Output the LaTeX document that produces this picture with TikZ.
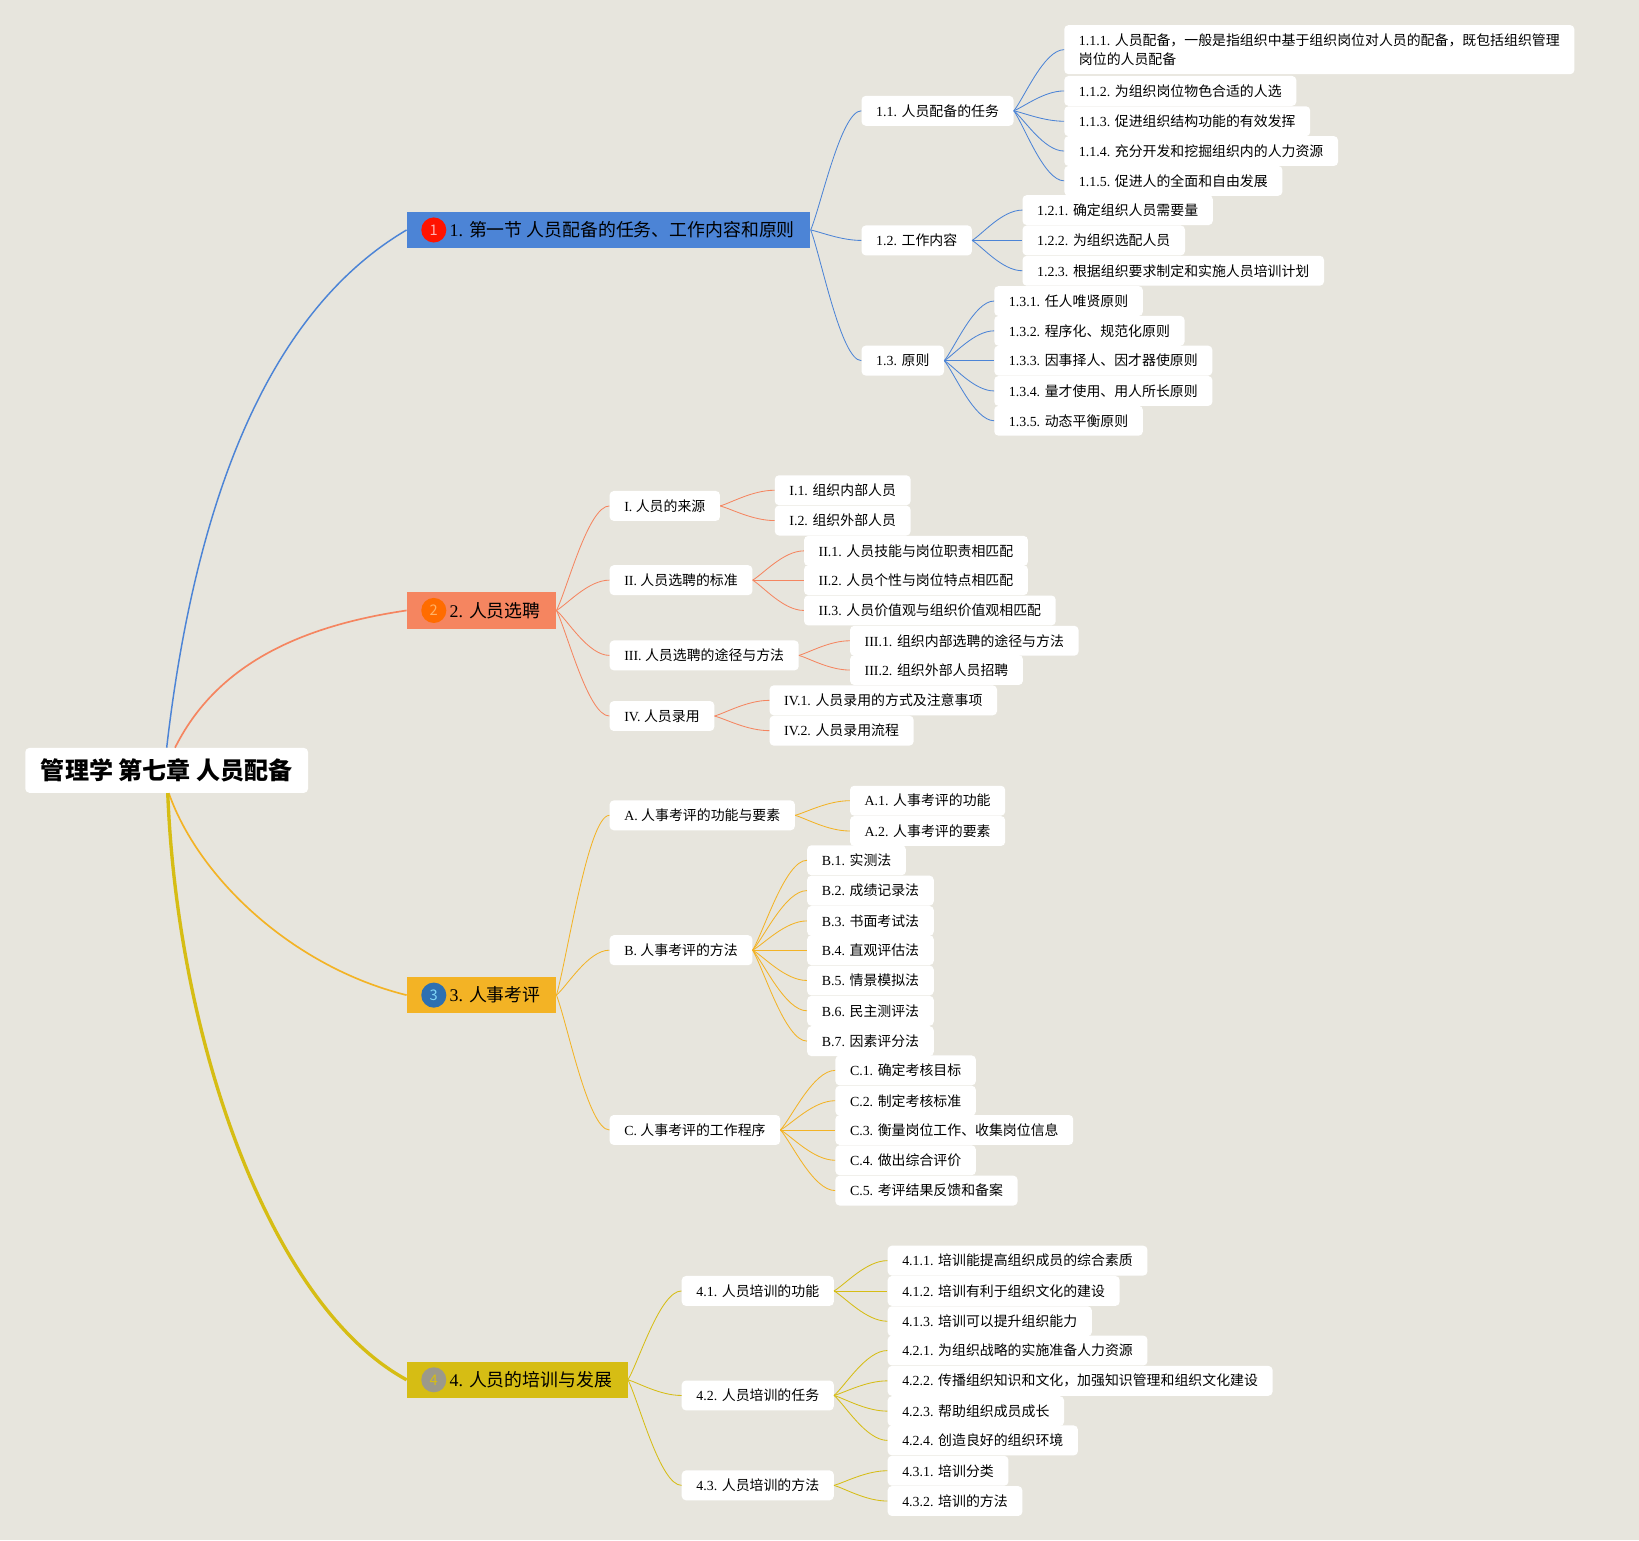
\documentclass[tikz,border=0pt]{standalone}
\usepackage{fontspec}
\usetikzlibrary{positioning, calc}
\setmainfont{Liberation Serif}
\newfontfamily\cjk{Noto Sans CJK SC}
\newcommand{\zh}[1]{{\cjk #1}}
\definecolor{paper}{HTML}{E7E5DD}
\definecolor{blueline}{HTML}{4C84D6}
\definecolor{salmonline}{HTML}{F58560}
\definecolor{amberline}{HTML}{F3B325}
\definecolor{oliveline}{HTML}{D6BD14}
\tikzset{
    box/.style={fill=white, rounded corners=4pt, anchor=west, inner xsep=14pt, inner ysep=0pt, minimum height=28.6pt, align=left, font=\fontsize{13.3}{19}\selectfont},
    rootbox/.style={box, minimum height=43pt, inner xsep=15pt, font=\fontsize{23}{28}\selectfont\bfseries},
    mainbox/.style={anchor=west, inner xsep=15pt, inner ysep=0pt, minimum height=35pt, font=\fontsize{17.1}{21}\selectfont, execute at begin node=\hspace*{26pt}},
    badge/.style={circle, minimum size=24pt, inner sep=0pt, font=\cjk\fontsize{14}{16}\selectfont},
    link/.style={line width=0.8pt, to path={.. controls ($(\tikztostart)!.2!(\tikztotarget)$) and ($(\tikztostart |- \tikztotarget)!.6!(\tikztotarget)$) .. (\tikztotarget)}}
}
\begin{document}
\begin{tikzpicture}[x=1pt, y=-1pt]
    \useasboundingbox (0,0) rectangle (1568,1473.3);
    \fill [paper] (0,0) rectangle (1568,1473.3);
    % Root and main branches
    \node (root) [rootbox] at (24,737) {\zh{管理学 第七章 人员配备}};
    \node (m1) [mainbox, fill=blueline] at (389,220) {1. \zh{第一节 人员配备的任务、工作内容和原则}};
    \node (m2) [mainbox, fill=salmonline] at (389,584) {2. \zh{人员选聘}};
    \node (m3) [mainbox, fill=amberline] at (389,952) {3. \zh{人事考评}};
    \node (m4) [mainbox, fill=oliveline] at (389,1320) {4. \zh{人员的培训与发展}};
    \node (c1) [badge, fill=red!85!orange, text=red!30!white] at (415,220) {1};
    \node (c2) [badge, fill=orange!85!red, text=orange!60!white] at (415,584) {2};
    \node (c3) [badge, fill=cyan!55!blue!85!black, text=cyan!50!white] at (415,952) {3};
    \node (c4) [badge, fill=gray!90!yellow, text=oliveline] at (415,1320) {4};
    % Section 1
    \node (n11) [box] at (824,106) {1.1. \zh{人员配备的任务}};
    \node (n12) [box] at (824,230) {1.2. \zh{工作内容}};
    \node (n13) [box] at (824,345) {1.3. \zh{原则}};
    \node (n111) [box, minimum height=47pt] at (1018,47.5) {1.1.1. \zh{人员配备，一般是指组织中基于组织岗位对人员的配备，既包括组织管理}\\\zh{岗位的人员配备}};
    \node (n112) [box] at (1018,87) {1.1.2. \zh{为组织岗位物色合适的人选}};
    \node (n113) [box] at (1018,116) {1.1.3. \zh{促进组织结构功能的有效发挥}};
    \node (n114) [box] at (1018,144.5) {1.1.4. \zh{充分开发和挖掘组织内的人力资源}};
    \node (n115) [box] at (1018,173) {1.1.5. \zh{促进人的全面和自由发展}};
    \node (n121) [box] at (978,201) {1.2.1. \zh{确定组织人员需要量}};
    \node (n122) [box] at (978,230) {1.2.2. \zh{为组织选配人员}};
    \node (n123) [box] at (978,259) {1.2.3. \zh{根据组织要求制定和实施人员培训计划}};
    \node (n131) [box] at (951,288) {1.3.1. \zh{任人唯贤原则}};
    \node (n132) [box] at (951,316.5) {1.3.2. \zh{程序化、规范化原则}};
    \node (n133) [box] at (951,345) {1.3.3. \zh{因事择人、因才器使原则}};
    \node (n134) [box] at (951,374) {1.3.4. \zh{量才使用、用人所长原则}};
    \node (n135) [box] at (951,402.5) {1.3.5. \zh{动态平衡原则}};
    % Section 2
    \node (rI) [box] at (583,484) {I. \zh{人员的来源}};
    \node (rII) [box] at (583,555) {II. \zh{人员选聘的标准}};
    \node (rIII) [box] at (583,627) {III. \zh{人员选聘的途径与方法}};
    \node (rIV) [box] at (583,685) {IV. \zh{人员录用}};
    \node (rI1) [box] at (741,469) {I.1. \zh{组织内部人员}};
    \node (rI2) [box] at (741,498) {I.2. \zh{组织外部人员}};
    \node (rII1) [box] at (769,527) {II.1. \zh{人员技能与岗位职责相匹配}};
    \node (rII2) [box] at (769,555) {II.2. \zh{人员个性与岗位特点相匹配}};
    \node (rII3) [box] at (769,584) {II.3. \zh{人员价值观与组织价值观相匹配}};
    \node (rIII1) [box] at (813,613) {III.1. \zh{组织内部选聘的途径与方法}};
    \node (rIII2) [box] at (813,641) {III.2. \zh{组织外部人员招聘}};
    \node (rIV1) [box] at (736,670) {IV.1. \zh{人员录用的方式及注意事项}};
    \node (rIV2) [box] at (736,699) {IV.2. \zh{人员录用流程}};
    % Section 3
    \node (pA) [box] at (583,780) {A. \zh{人事考评的功能与要素}};
    \node (pB) [box] at (583,909) {B. \zh{人事考评的方法}};
    \node (pC) [box] at (583,1081) {C. \zh{人事考评的工作程序}};
    \node (pA1) [box] at (813,766) {A.1. \zh{人事考评的功能}};
    \node (pA2) [box] at (813,795) {A.2. \zh{人事考评的要素}};
    \node (pB1) [box] at (772,823) {B.1. \zh{实测法}};
    \node (pB2) [box] at (772,852) {B.2. \zh{成绩记录法}};
    \node (pB3) [box] at (772,881) {B.3. \zh{书面考试法}};
    \node (pB4) [box] at (772,909) {B.4. \zh{直观评估法}};
    \node (pB5) [box] at (772,938) {B.5. \zh{情景模拟法}};
    \node (pB6) [box] at (772,967) {B.6. \zh{民主测评法}};
    \node (pB7) [box] at (772,996) {B.7. \zh{因素评分法}};
    \node (pC1) [box] at (799,1024) {C.1. \zh{确定考核目标}};
    \node (pC2) [box] at (799,1053) {C.2. \zh{制定考核标准}};
    \node (pC3) [box] at (799,1081) {C.3. \zh{衡量岗位工作、收集岗位信息}};
    \node (pC4) [box] at (799,1110) {C.4. \zh{做出综合评价}};
    \node (pC5) [box] at (799,1139) {C.5. \zh{考评结果反馈和备案}};
    % Section 4
    \node (n41) [box] at (652,1235) {4.1. \zh{人员培训的功能}};
    \node (n42) [box] at (652,1335) {4.2. \zh{人员培训的任务}};
    \node (n43) [box] at (652,1421) {4.3. \zh{人员培训的方法}};
    \node (n411) [box] at (849,1206) {4.1.1. \zh{培训能提高组织成员的综合素质}};
    \node (n412) [box] at (849,1235) {4.1.2. \zh{培训有利于组织文化的建设}};
    \node (n413) [box] at (849,1264) {4.1.3. \zh{培训可以提升组织能力}};
    \node (n421) [box] at (849,1292) {4.2.1. \zh{为组织战略的实施准备人力资源}};
    \node (n422) [box] at (849,1321) {4.2.2. \zh{传播组织知识和文化，加强知识管理和组织文化建设}};
    \node (n423) [box] at (849,1350) {4.2.3. \zh{帮助组织成员成长}};
    \node (n424) [box] at (849,1378) {4.2.4. \zh{创造良好的组织环境}};
    \node (n431) [box] at (849,1407) {4.3.1. \zh{培训分类}};
    \node (n432) [box] at (849,1436) {4.3.2. \zh{培训的方法}};
    % Links from the root
    \draw [blueline, line width=1.4pt] (root.north) .. controls (190,450) and (270,290) .. (m1.west);
    \draw [salmonline, line width=1.6pt] (root.north) ++(8,0) .. controls (205,640) and (280,600) .. (m2.west);
    \draw [amberline, line width=1.6pt] (root.south) ++(2,0) .. controls (190,840) and (280,925) .. (m3.west);
    \draw [oliveline, line width=3.2pt] (root.south) ++(1,0) .. controls (170,1000) and (260,1250) .. (m4.west);
    % Links of section 1
    \draw [blueline, link] (m1.east) edge (n11.west) edge (n12.west) edge (n13.west);
    \draw [blueline, link] (n11.east) edge (n111.west) edge (n112.west) edge (n113.west) edge (n114.west) edge (n115.west);
    \draw [blueline, link] (n12.east) edge (n121.west) edge (n122.west) edge (n123.west);
    \draw [blueline, link] (n13.east) edge (n131.west) edge (n132.west) edge (n133.west) edge (n134.west) edge (n135.west);
    % Links of section 2
    \draw [salmonline, link] (m2.east) edge (rI.west) edge (rII.west) edge (rIII.west) edge (rIV.west);
    \draw [salmonline, link] (rI.east) edge (rI1.west) edge (rI2.west);
    \draw [salmonline, link] (rII.east) edge (rII1.west) edge (rII2.west) edge (rII3.west);
    \draw [salmonline, link] (rIII.east) edge (rIII1.west) edge (rIII2.west);
    \draw [salmonline, link] (rIV.east) edge (rIV1.west) edge (rIV2.west);
    % Links of section 3
    \draw [amberline, link] (m3.east) edge (pA.west) edge (pB.west) edge (pC.west);
    \draw [amberline, link] (pA.east) edge (pA1.west) edge (pA2.west);
    \draw [amberline, link] (pB.east) edge (pB1.west) edge (pB2.west) edge (pB3.west) edge (pB4.west) edge (pB5.west) edge (pB6.west) edge (pB7.west);
    \draw [amberline, link] (pC.east) edge (pC1.west) edge (pC2.west) edge (pC3.west) edge (pC4.west) edge (pC5.west);
    % Links of section 4
    \draw [oliveline, link] (m4.east) edge (n41.west) edge (n42.west) edge (n43.west);
    \draw [oliveline, link] (n41.east) edge (n411.west) edge (n412.west) edge (n413.west);
    \draw [oliveline, link] (n42.east) edge (n421.west) edge (n422.west) edge (n423.west) edge (n424.west);
    \draw [oliveline, link] (n43.east) edge (n431.west) edge (n432.west);
\end{tikzpicture}
\end{document}
